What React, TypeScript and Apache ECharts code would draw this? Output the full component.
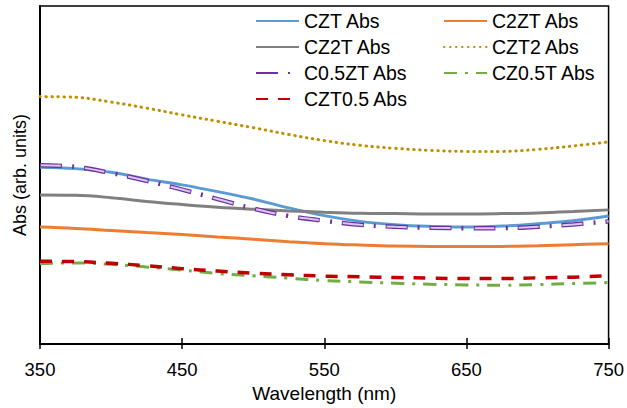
import React, { useEffect, useRef } from "react";
import * as echarts from "echarts";

// Wavelength grid (nm)
const wavelengths = [350, 375, 400, 425, 450, 475, 500, 525, 550, 575, 600, 625, 650, 675, 700, 725, 750];

// Absorbance traces (arbitrary units)
const cztAbs = [52.3, 51.9, 50.8, 48.8, 47.1, 45.1, 42.9, 40.3, 38.0, 36.3, 35.3, 34.8, 34.6, 34.9, 35.6, 36.5, 37.9];
const c2ztAbs = [34.6, 34.2, 33.6, 33.0, 32.4, 31.7, 31.0, 30.3, 29.7, 29.3, 29.0, 28.9, 28.9, 28.9, 29.1, 29.4, 29.7];
const cz2tAbs = [44.1, 44.0, 43.3, 42.2, 41.3, 40.5, 39.9, 39.4, 39.0, 38.7, 38.6, 38.5, 38.5, 38.6, 38.8, 39.2, 39.7];
const czt2Abs = [73.2, 73.0, 71.6, 69.8, 67.8, 65.9, 64.0, 62.0, 60.2, 58.8, 57.9, 57.3, 57.0, 57.0, 57.6, 58.6, 59.8];
const c05ztAbs = [52.9, 52.4, 50.6, 48.3, 45.7, 42.9, 40.1, 37.9, 36.5, 35.3, 34.7, 34.4, 34.3, 34.3, 34.7, 35.4, 36.3];
const cz05tAbs = [23.8, 24.0, 23.6, 22.8, 21.9, 20.9, 20.2, 19.5, 18.8, 18.4, 18.0, 17.7, 17.5, 17.4, 17.6, 17.9, 18.2];
const czt05Abs = [24.5, 24.4, 23.9, 23.2, 22.3, 21.6, 21.0, 20.5, 20.1, 19.9, 19.7, 19.5, 19.4, 19.4, 19.6, 19.8, 20.2];

const xTicks = { min: 350, max: 750, interval: 100 };

const FONT = "'Liberation Sans', Arial, sans-serif";

const pairs = (ys: number[]) => wavelengths.map((x, i) => [x, ys[i]]);

export default function App() {
  const ref = useRef<HTMLDivElement>(null);

  useEffect(() => {
    if (!ref.current) return;
    const chart = echarts.init(ref.current, undefined, { renderer: "svg" });

    const line = (name: string, data: number[], color: string, width: number, type: any, extra: any = {}) => ({
      name,
      type: "line",
      data: pairs(data),
      smooth: 0.4,
      symbol: "none",
      lineStyle: { color, width, type, ...extra },
      itemStyle: { color },
      z: 2,
    });

    // Line-only legend keys: hide the marker the line series adds to its icon
    const legendCommon = {
      orient: "vertical",
      top: 11,
      padding: 0,
      itemWidth: 43,
      itemHeight: 12,
      itemGap: 6,
      itemStyle: { opacity: 0 },
      textStyle: { fontFamily: FONT, fontSize: 19.5, color: "#000", lineHeight: 20 },
      selectedMode: false,
    };

    chart.setOption({
      animation: false,
      backgroundColor: "#fff",
      grid: {
        left: 40,
        right: 16,
        top: 6,
        bottom: 62,
        show: true,
        borderColor: "#000",
        borderWidth: 1.5,
        backgroundColor: "transparent",
      },
      legend: [
        { ...legendCommon, left: 255, data: ["CZT Abs", "CZ2T Abs", "C0.5ZT Abs", "CZT0.5 Abs"] },
        { ...legendCommon, left: 443, data: ["C2ZT Abs", "CZT2 Abs", "CZ0.5T Abs"] },
      ],
      xAxis: [
        {
          type: "value",
          min: xTicks.min,
          max: xTicks.max,
          interval: xTicks.interval,
          name: "Wavelength (nm)",
          nameLocation: "middle",
          nameGap: 37,
          nameTextStyle: { fontFamily: FONT, fontSize: 19, color: "#000" },
          axisLine: { show: true, lineStyle: { color: "#000", width: 2 } },
          axisTick: { show: true, inside: true, length: 6, lineStyle: { color: "#000", width: 1.5 } },
          axisLabel: { fontFamily: FONT, fontSize: 18.5, color: "#000", margin: 16 },
          splitLine: { show: false },
        },
        {
          type: "value",
          position: "bottom",
          min: xTicks.min,
          max: xTicks.max,
          interval: xTicks.interval,
          axisLine: { show: false },
          axisTick: { show: true, inside: false, length: 5, lineStyle: { color: "#000", width: 1.5 } },
          axisLabel: { show: false },
          splitLine: { show: false },
        },
      ],
      yAxis: {
        type: "value",
        min: 0,
        max: 100,
        name: "Abs (arb. units)",
        nameLocation: "middle",
        nameGap: 11,
        nameTextStyle: { fontFamily: FONT, fontSize: 18, color: "#000" },
        axisLine: { show: true, lineStyle: { color: "#000", width: 2 } },
        axisTick: { show: false },
        axisLabel: { show: false },
        splitLine: { show: false },
      },
      series: [
        line("CZT Abs", cztAbs, "#5B9BD5", 3, "solid"),
        line("C2ZT Abs", c2ztAbs, "#ED7D31", 3, "solid"),
        line("CZ2T Abs", cz2tAbs, "#808080", 3, "solid"),
        line("CZT2 Abs", czt2Abs, "#BF9000", 3, [0.5, 5.5], { cap: "round" }),
        line("C0.5ZT Abs", c05ztAbs, "#7030A0", 4.5, [22, 10, 2, 10]),
        {
          ...line("C0.5ZT fill", c05ztAbs, "#D9C8EE", 2, [20, 24], { dashOffset: -1 }),
          z: 3,
        },
        line("CZ0.5T Abs", cz05tAbs, "#70AD47", 3, [13, 8, 3, 8]),
        line("CZT0.5 Abs", czt05Abs, "#C00000", 3.5, [12, 10]),
      ],
    });

    return () => chart.dispose();
  }, []);

  return (
    <div
      ref={ref}
      style={{ position: "fixed", left: 0, top: 0, width: 627, height: 408 }}
    />
  );
}
